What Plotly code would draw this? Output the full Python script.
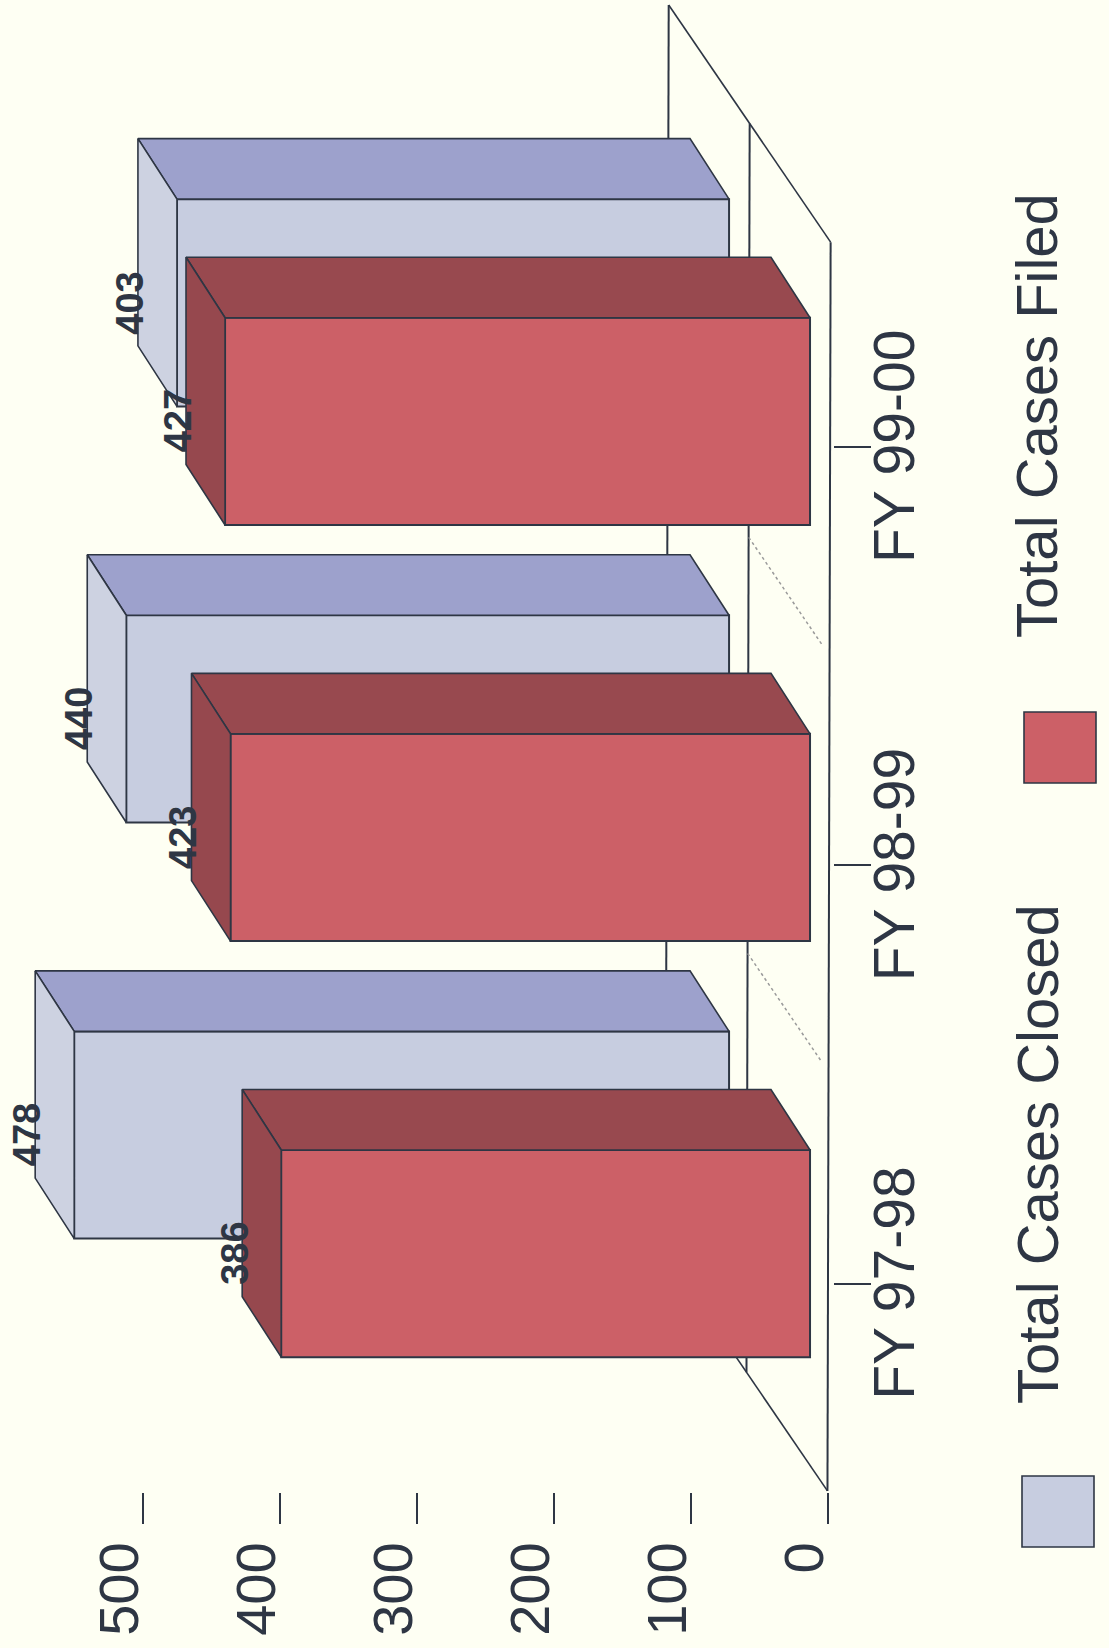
import plotly.graph_objects as go

# ---- data ----
categories = ["FY 97-98", "FY 98-99", "FY 99-00"]
cases_closed = [478, 440, 403]
cases_filed = [386, 423, 427]
value_ticks = [0, 100, 200, 300, 400, 500]
category_ticks = [-0.009, 0.997, 2.002]

# ---- style ----
BG = "#FEFFF3"
INK = "#2E3644"
BLUE_FRONT, BLUE_TOP, BLUE_SIDE = "#C7CDE0", "#9DA1CC", "#CDD2E1"
RED_FRONT, RED_TOP, RED_SIDE = "#CC6067", "#98494F", "#96484E"
FONT = "Liberation Sans"

W, H = 1109, 1648
PLOT_W, PLOT_H = 833, 1492

# oblique projection: full floor depth expressed in axis units
DEPTH_X = 118.2   # value units
DEPTH_Y = 0.57    # category units
BAR_DX = 28.5     # depth of one bar, value units
BAR_DY = 0.1454   # depth of one bar, category units
HALF = 0.249      # half the bar's lateral width
SKEW = -0.77      # slight lean of the floor
positions = list(range(len(categories)))

fig = go.Figure()


def add_series(name, values, d1, front, top, side):
    bases = [d1 * DEPTH_X] * len(values)
    centers = [p + d1 * DEPTH_Y for p in positions]
    fig.add_trace(go.Bar(
        name=name, orientation="h", x=values, y=centers, base=bases,
        width=2 * HALF, marker=dict(color=front, line=dict(color=INK, width=2)),
        showlegend=False,
    ))
    dx, dy = BAR_DX, BAR_DY
    for v, b, c in zip(values, bases, centers):
        tip = b + v
        # upper face
        fig.add_trace(go.Scatter(
            x=[b, tip, tip + dx, b + dx, b],
            y=[c + HALF, c + HALF, c + HALF + dy, c + HALF + dy, c + HALF],
            mode="lines", fill="toself", fillcolor=top,
            line=dict(color=INK, width=1.6), showlegend=False, hoverinfo="skip",
        ))
        # far-end face
        fig.add_trace(go.Scatter(
            x=[tip, tip + dx, tip + dx, tip, tip],
            y=[c - HALF, c - HALF + dy, c + HALF + dy, c + HALF, c - HALF],
            mode="lines", fill="toself", fillcolor=side,
            line=dict(color=INK, width=1.6), showlegend=False, hoverinfo="skip",
        ))
        fig.add_annotation(
            x=tip + dx, y=c, xref="x", yref="y", text=f"<b>{v}</b>",
            textangle=-90, showarrow=False, xanchor="center", yanchor="middle",
            xshift=-8, font=dict(family=FONT, size=38, color=INK),
        )


add_series("Total Cases Closed", cases_closed, 0.611, BLUE_FRONT, BLUE_TOP, BLUE_SIDE)
add_series("Total Cases Filed", cases_filed, 0.111, RED_FRONT, RED_TOP, RED_SIDE)

# ---- floor (below the traces) ----
LOW, HIGH = positions[0] - 0.507, positions[-1] + 0.494


def floor_pt(lateral, depth):
    return depth * DEPTH_X + SKEW * lateral, lateral + depth * DEPTH_Y


def floor_line(l1, d1, l2, d2, **line):
    x0, y0 = floor_pt(l1, d1)
    x1, y1 = floor_pt(l2, d2)
    fig.add_shape(type="line", xref="x", yref="y", x0=x0, y0=y0, x1=x1, y1=y1,
                  layer="below", line=line)


for depth in (0, 0.5, 1):
    floor_line(LOW, depth, HIGH, depth, color=INK, width=2)
floor_line(LOW, 0, LOW, 1, color=INK, width=1.6)
floor_line(HIGH, 0, HIGH, 1, color=INK, width=1.6)
for p in positions[:-1]:
    floor_line(p + 0.5, 0.05, p + 0.5, 0.5, color="#9A9A9A", width=1.5, dash="dot")


# ---- legend (rotated with the whole page) ----
def px(x):
    return x / PLOT_W


def py(y):
    return 1 - y / PLOT_H


legend = [("Total Cases Closed", BLUE_FRONT, 1022, 1476, 1154),
          ("Total Cases Filed", RED_FRONT, 1024, 712, 416)]
for label, color, sx, sy, ty in legend:
    fig.add_shape(type="rect", xref="paper", yref="paper",
                  x0=px(sx), x1=px(sx + 72), y0=py(sy), y1=py(sy + 71),
                  fillcolor=color, line=dict(color=INK, width=1.6))
    fig.add_annotation(x=px(1037), y=py(ty), xref="paper", yref="paper", text=label,
                       textangle=-90, showarrow=False, xanchor="center", yanchor="middle",
                       font=dict(family=FONT, size=58, color=INK))

# ---- layout ----
fig.update_layout(
    width=W, height=H, autosize=False,
    margin=dict(l=0, t=0, r=W - PLOT_W, b=H - PLOT_H, pad=0, autoexpand=False),
    paper_bgcolor=BG, plot_bgcolor=BG, showlegend=False, barmode="overlay",
    xaxis=dict(
        range=[604.4, -3.65], autorange=False, tickvals=value_ticks,
        showgrid=False, zeroline=False, showline=False,
        ticks="outside", ticklen=31, tickwidth=2, tickcolor=INK,
        tickangle=-90, ticklabelstandoff=-4, ticklabelshift=23,
        tickfont=dict(family=FONT, size=56, color=INK),
    ),
    yaxis=dict(
        range=[-0.5097, 3.0759], autorange=False, side="right",
        tickvals=category_ticks, ticktext=categories,
        showgrid=False, zeroline=False, showline=False,
        ticks="outside", ticklen=37, tickwidth=2, tickcolor=INK,
        tickangle=-90, ticklabelstandoff=-25, ticklabelshift=8,
        tickfont=dict(family=FONT, size=57, color=INK),
    ),
)

fig.write_html(
    "out.html",
    config={"displayModeBar": False},
    post_script=f"document.body.style.margin='0';document.body.style.background='{BG}';",
)
